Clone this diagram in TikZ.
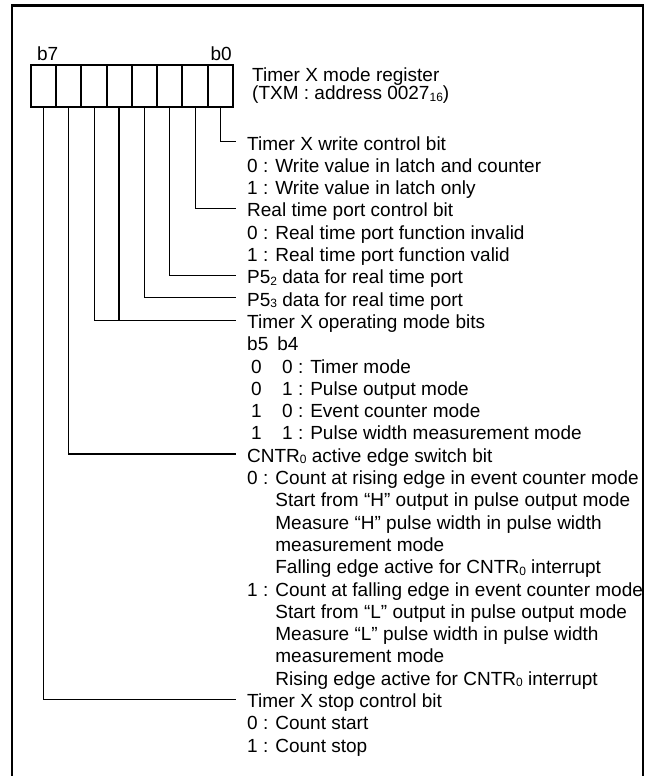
\documentclass[tikz,border=0pt]{standalone}
\usepackage{fontspec}
\setmainfont{Liberation Sans}
\usetikzlibrary{positioning}
\newcommand{\smallsub}[1]{\raisebox{-1.5pt}{\fontsize{12}{12}\selectfont #1}}
\tikzset{
  frame/.style={
    draw=black,
    line width=2.5pt
  },
  cell/.style={
    draw=black,
    line width=2pt,
    minimum width=25.25pt,
    minimum height=42pt,
    inner sep=0pt,
    outer sep=0pt
  },
  leader/.style={
    draw=black,
    line width=1.2pt,
    shorten >=11pt
  },
  entry/.style={
    anchor=north west,
    inner sep=0pt,
    text height=19.25pt,
    text depth=2.65pt,
    font=\fontsize{19}{22}\selectfont
  },
  bitname/.style={
    inner sep=0pt,
    font=\fontsize{19}{22}\selectfont
  },
  regname/.style={
    align=left,
    inner sep=0pt,
    font=\fontsize{19}{17.8}\selectfont
  }
}

\begin{document}
\begin{tikzpicture}[x=1pt,y=-1pt]
  \useasboundingbox (0,0) rectangle (647,776);

  % outer frame, open at the bottom
  \draw[frame] (12.2,790) -- (12.2,5.3) -- (643,5.3) -- (643,790);

  % register cells
  \node[cell] (bit7) at (43.6,86) {};
  \node[cell, right=0pt of bit7] (bit6) {};
  \node[cell, right=0pt of bit6] (bit5) {};
  \node[cell, right=0pt of bit5] (bit4) {};
  \node[cell, right=0pt of bit4] (bit3) {};
  \node[cell, right=0pt of bit3] (bit2) {};
  \node[cell, right=0pt of bit2] (bit1) {};
  \node[cell, right=0pt of bit1] (bit0) {};

  \node[bitname, anchor=base west] (lbseven) at ([xshift=6pt,yshift=4pt]bit7.north west) {b7};
  \node[bitname, anchor=base east] (lbzero) at ([xshift=-1pt,yshift=4pt]bit0.north east) {b0};

  \node[regname, anchor=north west] (txm) at ([xshift=19pt,yshift=-2.8pt]bit0.north east)
    {Timer X mode register\\(TXM : address 0027\smallsub{16})};

  % bit descriptions
  \node[entry, anchor=west] (wctl) at (247,141.7) {Timer X write control bit};
  \node[entry] (wctla) at (wctl.south west) {0 : Write value in latch and counter};
  \node[entry] (wctlb) at (wctla.south west) {1 : Write value in latch only};
  \node[entry] (rtp) at (wctlb.south west) {Real time port control bit};
  \node[entry] (rtpa) at (rtp.south west) {0 : Real time port function invalid};
  \node[entry] (rtpb) at (rtpa.south west) {1 : Real time port function valid};
  \node[entry] (ptwo) at (rtpb.south west) {P5\smallsub{2} data for real time port};
  \node[entry] (pthree) at (ptwo.south west) {P5\smallsub{3} data for real time port};
  \node[entry] (tmode) at (pthree.south west) {Timer X operating mode bits};
  \node[entry] (tmhead) at (tmode.south west) {b5\hspace{9pt}b4};
  \node[entry] (tma) at (tmhead.south west) {\hspace{4pt}0\hspace{20.4pt}0 : Timer mode};
  \node[entry] (tmb) at (tma.south west) {\hspace{4pt}0\hspace{20.4pt}1 : Pulse output mode};
  \node[entry] (tmc) at (tmb.south west) {\hspace{4pt}1\hspace{20.4pt}0 : Event counter mode};
  \node[entry] (tmd) at (tmc.south west) {\hspace{4pt}1\hspace{20.4pt}1 : Pulse width measurement mode};
  \node[entry] (cntr) at (tmd.south west) {CNTR\smallsub{0} active edge switch bit};
  \node[entry] (cntra) at (cntr.south west) {0 : Count at rising edge in event counter mode};
  \node[entry] (cntrb) at (cntra.south west) {\phantom{0 : }Start from “H” output in pulse output mode};
  \node[entry] (cntrc) at (cntrb.south west) {\phantom{0 : }Measure “H” pulse width in pulse width};
  \node[entry] (cntrd) at (cntrc.south west) {\phantom{0 : }measurement mode};
  \node[entry] (cntre) at (cntrd.south west) {\phantom{0 : }Falling edge active for CNTR\smallsub{0} interrupt};
  \node[entry] (cntrf) at (cntre.south west) {1 : Count at falling edge in event counter mode};
  \node[entry] (cntrg) at (cntrf.south west) {\phantom{0 : }Start from “L” output in pulse output mode};
  \node[entry] (cntrh) at (cntrg.south west) {\phantom{0 : }Measure “L” pulse width in pulse width};
  \node[entry] (cntri) at (cntrh.south west) {\phantom{0 : }measurement mode};
  \node[entry] (cntrj) at (cntri.south west) {\phantom{0 : }Rising edge active for CNTR\smallsub{0} interrupt};
  \node[entry] (stop) at (cntrj.south west) {Timer X stop control bit};
  \node[entry] (stopa) at (stop.south west) {0 : Count start};
  \node[entry] (stopb) at (stopa.south west) {1 : Count stop};

  % leaders from the cells
  \draw[leader] (bit0.south) |- (wctl.west);
  \draw[leader] (bit1.south) |- (rtp.west);
  \draw[leader] (bit2.south) |- (ptwo.west);
  \draw[leader] (bit3.south) |- (pthree.west);
  \draw[leader] (bit5.south) |- (tmode.west);
  \draw[leader, line width=2pt, shorten >=0pt] (bit4.south) -- (bit4.south |- tmode.west);
  \draw[leader] (bit6.south) |- (cntr.west);
  \draw[leader] (bit7.south) |- (stop.west);
\end{tikzpicture}
\end{document}
